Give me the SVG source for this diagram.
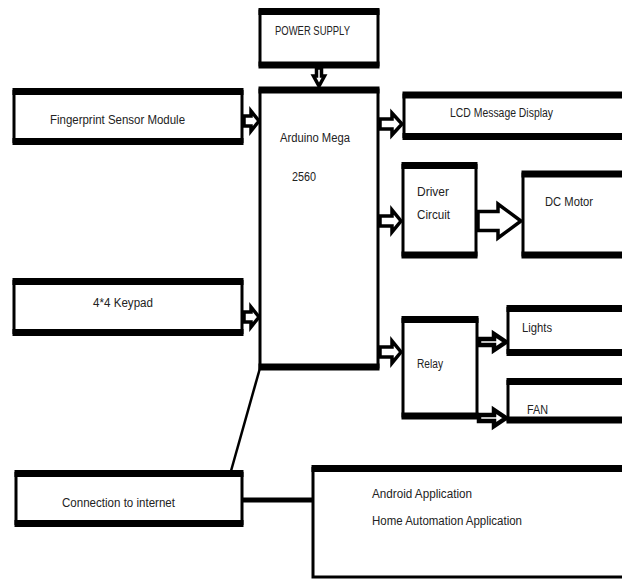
<svg xmlns="http://www.w3.org/2000/svg" width="622" height="579" viewBox="0 0 622 579">
<style>
.box{fill:#fff;stroke:#000;stroke-width:3}
.band{stroke:#000;stroke-width:7;fill:none}
.arr{fill:#fff;stroke:#000;stroke-width:3.5;stroke-linejoin:miter}
.arrs{fill:#fff;stroke:#000;stroke-width:4.5;stroke-linejoin:miter}
.lbl{font-family:"Liberation Sans",Arial,sans-serif;font-size:12.5px;fill:#222}
.conn{stroke:#000;fill:none}
</style>
<rect width="622" height="579" fill="#fff"/>

<g id="connectors">
<line class="conn" x1="260" y1="368" x2="231" y2="471" stroke-width="2.5"/>
<line class="conn" x1="242" y1="500" x2="314" y2="500" stroke-width="5"/>
<path class="arr" d="M316.5,68 L321.5,68 L321.5,76 L324.5,76 L319,86 L313.5,76 L316.5,76 Z" stroke-width="2.5"/>
<path class="arr" d="M244,116 L251,116 L251,111 L259,121 L251,131 L251,126 L244,126 Z"/>
<path class="arr" d="M244,312 L251,312 L251,307 L259,317 L251,327 L251,322 L244,322 Z"/>
<path class="arr" d="M380,119 L392,119 L392,113 L402,124 L392,135 L392,129 L380,129 Z"/>
<path class="arr" d="M380,216 L392,216 L392,210 L401,221 L392,232 L392,226 L380,226 Z"/>
<path class="arr" d="M478,211.5 L498,211.5 L498,204 L521,221 L498,238 L498,230.5 L478,230.5 Z" stroke-width="4.5"/>
<path class="arr" d="M380,347 L392,347 L392,341 L401,352 L392,363 L392,357 L380,357 Z"/>
<path class="arrs" d="M479,339 L494,339 L494,334 L506,342 L494,350 L494,345 L479,345 Z"/>
<path class="arrs" d="M479,415 L494,415 L494,410 L506,418 L494,426 L494,421 L479,421 Z"/>
</g>

<g id="power">
<rect class="box" x="260" y="11" width="118" height="54"/>
<line class="band" x1="258.5" y1="11.5" x2="379.5" y2="11.5"/>
<line class="band" x1="258.5" y1="65" x2="379.5" y2="65"/>
<text class="lbl" x="275" y="35" textLength="75" lengthAdjust="spacingAndGlyphs">POWER SUPPLY</text>
</g>

<g id="arduino">
<rect class="box" x="260" y="90" width="118" height="277"/>
<line class="band" x1="258.5" y1="90" x2="379.5" y2="90"/>
<line class="band" x1="258.5" y1="367" x2="379.5" y2="367"/>
<text class="lbl" x="280" y="142" textLength="70" lengthAdjust="spacingAndGlyphs">Arduino Mega</text>
<text class="lbl" x="292" y="181" textLength="24" lengthAdjust="spacingAndGlyphs">2560</text>
</g>

<g id="fingerprint">
<rect class="box" x="14" y="91.5" width="228" height="50"/>
<line class="band" x1="12.5" y1="91.5" x2="243.5" y2="91.5"/>
<line class="band" x1="12.5" y1="141.5" x2="243.5" y2="141.5"/>
<text class="lbl" x="50" y="124" textLength="135" lengthAdjust="spacingAndGlyphs">Fingerprint Sensor Module</text>
</g>

<g id="keypad">
<rect class="box" x="14" y="281.5" width="228" height="51"/>
<line class="band" x1="12.5" y1="281.5" x2="243.5" y2="281.5"/>
<line class="band" x1="12.5" y1="332.5" x2="243.5" y2="332.5"/>
<text class="lbl" x="93" y="307" textLength="60" lengthAdjust="spacingAndGlyphs">4*4 Keypad</text>
</g>

<g id="lcd">
<rect class="box" x="404" y="95" width="230" height="41.5"/>
<line class="band" x1="402.5" y1="95" x2="630" y2="95"/>
<line class="band" x1="402.5" y1="136.5" x2="630" y2="136.5"/>
<text class="lbl" x="450" y="117" textLength="103" lengthAdjust="spacingAndGlyphs">LCD Message Display</text>
</g>

<g id="driver">
<rect class="box" x="403" y="165.5" width="73" height="89.5"/>
<line class="band" x1="401.5" y1="165.5" x2="477.5" y2="165.5"/>
<line class="band" x1="401.5" y1="255" x2="477.5" y2="255"/>
<text class="lbl" x="417" y="196" textLength="32" lengthAdjust="spacingAndGlyphs">Driver</text>
<text class="lbl" x="417" y="219" textLength="33" lengthAdjust="spacingAndGlyphs">Circuit</text>
</g>

<g id="dcmotor">
<rect class="box" x="523" y="174" width="110" height="81"/>
<line class="band" x1="521.5" y1="174" x2="630" y2="174"/>
<line class="band" x1="521.5" y1="255" x2="630" y2="255"/>
<text class="lbl" x="545" y="206" textLength="48" lengthAdjust="spacingAndGlyphs">DC Motor</text>
</g>

<g id="relay">
<rect class="box" x="403" y="319.5" width="74" height="96.5"/>
<line class="band" x1="401.5" y1="319.5" x2="478.5" y2="319.5"/>
<line class="band" x1="401.5" y1="416" x2="478.5" y2="416"/>
<text class="lbl" x="417" y="368" textLength="26" lengthAdjust="spacingAndGlyphs">Relay</text>
</g>

<g id="lights">
<rect class="box" x="508" y="308.5" width="125" height="44"/>
<line class="band" x1="506.5" y1="308.5" x2="630" y2="308.5"/>
<line class="band" x1="506.5" y1="352.5" x2="630" y2="352.5"/>
<text class="lbl" x="522" y="332" textLength="30" lengthAdjust="spacingAndGlyphs">Lights</text>
</g>

<g id="fan">
<rect class="box" x="508" y="381.5" width="125" height="38.5"/>
<line class="band" x1="506.5" y1="381.5" x2="630" y2="381.5"/>
<line class="band" x1="506.5" y1="420" x2="630" y2="420"/>
<text class="lbl" x="527" y="414" textLength="21" lengthAdjust="spacingAndGlyphs">FAN</text>
</g>

<g id="internet">
<rect class="box" x="16" y="473.5" width="226" height="50"/>
<line class="band" x1="14.5" y1="473.5" x2="243.5" y2="473.5"/>
<line class="band" x1="14.5" y1="523.5" x2="243.5" y2="523.5"/>
<text class="lbl" x="62" y="507" textLength="113" lengthAdjust="spacingAndGlyphs">Connection to internet</text>
</g>

<g id="android">
<rect class="box" x="313" y="468.5" width="320" height="108.5"/>
<line class="band" x1="311.5" y1="468.5" x2="630" y2="468.5"/>
<text class="lbl" x="372" y="498" textLength="100" lengthAdjust="spacingAndGlyphs">Android Application</text>
<text class="lbl" x="372" y="525" textLength="150" lengthAdjust="spacingAndGlyphs">Home Automation Application</text>
</g>
</svg>
